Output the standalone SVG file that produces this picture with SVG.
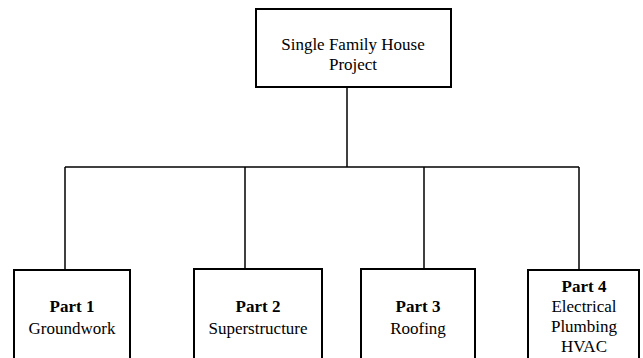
<svg xmlns="http://www.w3.org/2000/svg" width="643" height="358" viewBox="0 0 643 358">
<style>
.box{fill:#fff;stroke:#000;stroke-width:2}
.c{fill:none;stroke:#000;stroke-width:1.5}
text{font-family:'Liberation Serif','DejaVu Serif','Times New Roman',serif;font-size:17px;fill:#000;text-anchor:middle}
.b{font-weight:bold}
</style>
<rect width="643" height="358" fill="#fff"/>
<g id="connectors">
<line class="c" x1="347" y1="87" x2="347" y2="167"/>
<line class="c" x1="65" y1="167" x2="579" y2="167"/>
<line class="c" x1="65" y1="167" x2="65" y2="270"/>
<line class="c" x1="245" y1="167" x2="245" y2="269"/>
<line class="c" x1="424" y1="167" x2="424" y2="269"/>
<line class="c" x1="579" y1="167" x2="579" y2="270"/>
</g>
<g id="root">
<rect class="box" x="256" y="9" width="195" height="78"/>
<text x="353" y="50" font-family="Liberation Serif, serif">Single Family House</text>
<text x="353" y="70" font-family="Liberation Serif, serif">Project</text>
</g>
<g id="part1">
<rect class="box" x="14" y="270" width="116" height="100"/>
<text x="72" y="312" class="b">Part 1</text>
<text x="72" y="334">Groundwork</text>
</g>
<g id="part2">
<rect class="box" x="194" y="269" width="128" height="100"/>
<text x="258" y="312" class="b">Part 2</text>
<text x="258" y="334">Superstructure</text>
</g>
<g id="part3">
<rect class="box" x="361" y="269" width="114" height="100"/>
<text x="418" y="312" class="b">Part 3</text>
<text x="418" y="334">Roofing</text>
</g>
<g id="part4">
<rect class="box" x="528" y="270" width="111" height="100"/>
<text x="584" y="292" class="b">Part 4</text>
<text x="584" y="312">Electrical</text>
<text x="584" y="332">Plumbing</text>
<text x="584" y="352">HVAC</text>
</g>
</svg>
